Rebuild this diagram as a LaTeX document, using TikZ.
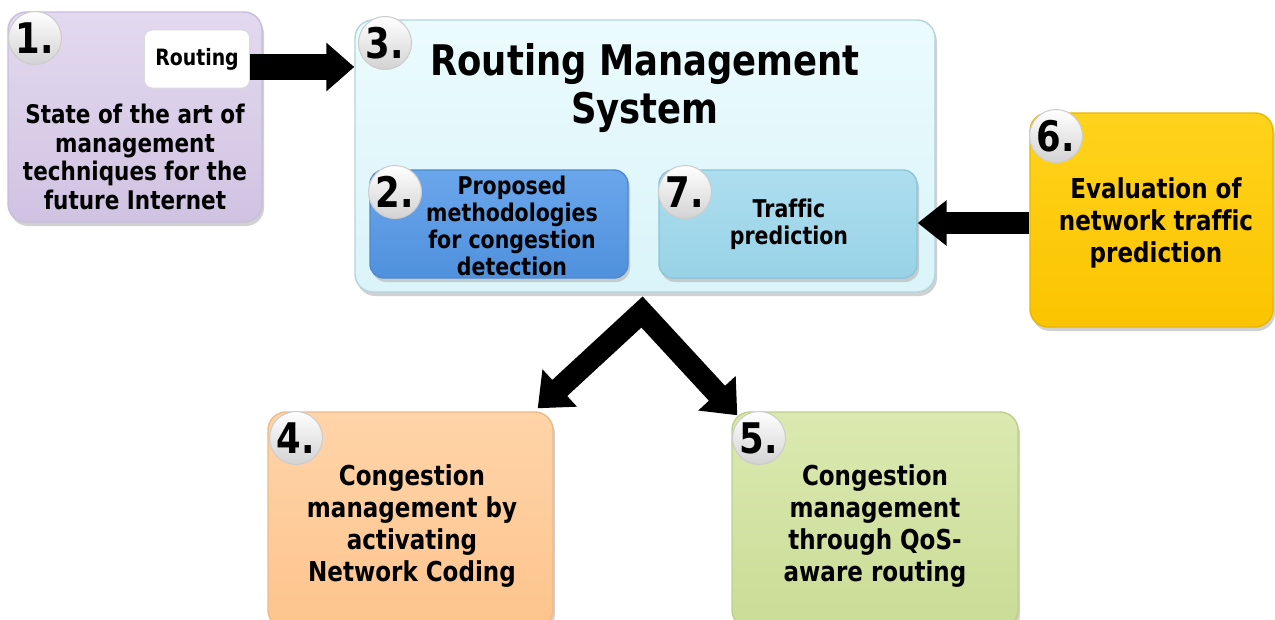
\documentclass[tikz,border=0pt]{standalone}
\usepackage{fontspec}
\setmainfont{DejaVu Sans}[FakeStretch=0.84, Ligatures=NoCommon]
\usetikzlibrary{arrows.meta,shadows}
\newdimen\pxu \pxu=0.02cm
\definecolor{c1t}{HTML}{E3D9EF}\definecolor{c1b}{HTML}{D0C3E2}\definecolor{c1d}{HTML}{C9BCDC}
\definecolor{c3t}{HTML}{EBFBFD}\definecolor{c3b}{HTML}{DAF4F9}\definecolor{c3d}{HTML}{B5D3DC}
\definecolor{c2t}{HTML}{6AA6EB}\definecolor{c2b}{HTML}{5091DD}\definecolor{c2d}{HTML}{4F88CC}
\definecolor{c7t}{HTML}{ADDEEF}\definecolor{c7b}{HTML}{98D2E6}\definecolor{c7d}{HTML}{8CC4D8}
\definecolor{c6t}{HTML}{FFD31C}\definecolor{c6b}{HTML}{FBC400}\definecolor{c6d}{HTML}{E8B600}
\definecolor{c4t}{HTML}{FFD4A8}\definecolor{c4b}{HTML}{FDC48D}\definecolor{c4d}{HTML}{EDBA88}
\definecolor{c5t}{HTML}{DBE9B0}\definecolor{c5b}{HTML}{CADC96}\definecolor{c5d}{HTML}{BED08C}
\begin{document}
\begin{tikzpicture}[x=0.02cm,y=-0.02cm,
  box/.style={rectangle, rounded corners=18\pxu, line width=0.8pt,
    drop shadow={shadow xshift=2\pxu, shadow yshift=-4\pxu, fill=gray!60, opacity=0.6}},
  num/.style={circle, minimum size=53\pxu, inner sep=0pt, draw=gray!40, line width=0.6pt,
    top color=white, bottom color=gray!35, font=\fontsize{24}{24}\selectfont\bfseries},
  txt/.style={align=center, inner sep=0pt, font=\fontsize{15.6}{18.1}\selectfont\bfseries},
  smalltxt/.style={align=center, inner sep=0pt, font=\fontsize{13.9}{15.3}\selectfont\bfseries},
  harrow/.style={line width=#1\pxu, black},
]
\clip (0,0) rectangle (1275,619);
% boxes
\node[box, draw=c1d, top color=c1t, bottom color=c1b, minimum width=254\pxu, minimum height=210\pxu] (b1) at (135,117) {};
\node[box, draw=c3d, top color=c3t, bottom color=c3b, minimum width=580\pxu, minimum height=272\pxu] (b3) at (645,156) {};
\node[box, draw=c2d, top color=c2t, bottom color=c2b, minimum width=258\pxu, minimum height=108\pxu, rounded corners=14\pxu] (b2) at (499,224) {};
\node[box, draw=c7d, top color=c7t, bottom color=c7b, minimum width=258\pxu, minimum height=108\pxu, rounded corners=14\pxu] (b7) at (788,224) {};
\node[box, draw=c6d, top color=c6t, bottom color=c6b, minimum width=243\pxu, minimum height=214\pxu] (b6) at (1151.5,220) {};
\node[box, draw=c4d, top color=c4t, bottom color=c4b, minimum width=285\pxu, minimum height=216\pxu] (b4) at (410.5,520) {};
\node[box, draw=c5d, top color=c5t, bottom color=c5b, minimum width=286\pxu, minimum height=216\pxu] (b5) at (875,520) {};
\node[rectangle, rounded corners=8\pxu, draw=gray!30, fill=white, minimum width=105\pxu, minimum height=58\pxu,
  font=\fontsize{12.8}{15}\selectfont\bfseries] (rt) at (197,59) {Routing};
% texts
\node[txt, font=\fontsize{14.6}{16.4}\selectfont\bfseries] (t1) at (135,157) {State of the art of\\management\\techniques for the\\future Internet};
\node[txt, font=\fontsize{24}{27.2}\selectfont\bfseries] (t3) at (645,88) {Routing Management\\System};
\node[smalltxt] (t2) at (512,226) {Proposed\\methodologies\\for congestion\\detection};
\node[smalltxt] (t7) at (789,224) {Traffic\\prediction};
\node[txt] (t6) at (1156,223) {Evaluation of\\network traffic\\prediction};
\node[txt] (t4) at (412,526) {Congestion\\management by\\activating\\Network Coding};
\node[txt] (t5) at (875,526) {Congestion\\management\\through QoS-\\aware routing};
% number circles
\node[num] (n1) at (35,38) {1.};
\node[num] (n3) at (385,43) {3.};
\node[num] (n2) at (395,192) {2.};
\node[num] (n7) at (685,192) {7.};
\node[num] (n6) at (1056,136) {6.};
\node[num] (n4) at (296,438) {4.};
\node[num] (n5) at (759,438) {5.};
% connectors
\coordinate (ya) at (0,67);
\coordinate (yb) at (0,223);
\draw[harrow=26, -{Triangle[length=0.56cm, width=0.94cm]}] (rt.east |- ya) -- (b3.west |- ya);
\draw[harrow=22, -{Triangle[length=0.58cm, width=0.88cm]}] (b6.west |- yb) -- (b7.east |- yb);
\coordinate (apex) at (642,312);
\coordinate (tip4) at ([xshift=-16\pxu, yshift=3\pxu]b4.north east);
\coordinate (tip5) at ([xshift=6\pxu, yshift=-4\pxu]b5.north west);
\draw[harrow=22, line join=miter, {Triangle[length=0.6cm, width=0.98cm]}-{Triangle[length=0.6cm, width=0.98cm]}] (tip4) -- (apex) -- (tip5);
\end{tikzpicture}
\end{document}
